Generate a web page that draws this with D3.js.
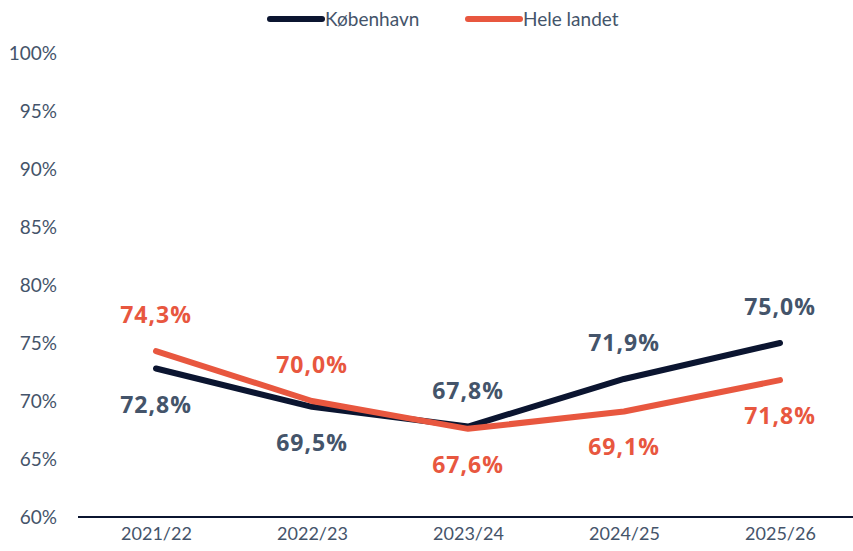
<!DOCTYPE html>
<html><head><meta charset="utf-8">
<script src="https://cdn.jsdelivr.net/npm/d3@7"></script>
<style>body{margin:0;background:#fff}svg{display:block}</style>
</head><body>
<svg id="c" width="853" height="551"></svg>
<script>
const categories = ["2021/22","2022/23","2023/24","2024/25","2025/26"];
const kbh = [72.8, 69.5, 67.8, 71.9, 75.0];
const hele = [74.3, 70.0, 67.6, 69.1, 71.8];
const kbhLabelPos = ["below","below","above","above","above"];
const heleLabelPos = ["above","above","below","below","below"];
const yTicks = [60,65,70,75,80,85,90,95,100];
const seriesNames = ["København","Hele landet"];

const darkLine = "#0b1530", orange = "#e8573f", textCol = "#44546a";
const svg = d3.select("#c");
const x = d3.scalePoint().domain(categories).range([156, 780]);
const y = d3.scaleLinear().domain([60,100]).range([517, 53]);
const fmt = v => v.toFixed(1).replace(".", ",") + "%";

// y axis labels
svg.append("g").selectAll("text").data(yTicks).join("text")
  .attr("x", 57).attr("y", d => y(d)).attr("dy", "0.35em")
  .attr("text-anchor", "end").attr("fill", textCol)
  .style("font-family", "Lato, 'Open Sans', sans-serif").style("font-size", "19px")
  .text(d => d + "%");

// x axis
const xa = svg.append("g").attr("transform", "translate(0,517)")
  .call(d3.axisBottom(x).tickSize(0).tickPadding(10));
xa.select(".domain").remove();
xa.selectAll("text").attr("fill", textCol).attr("dy", "0.71em")
  .style("font-family", "Lato, 'Open Sans', sans-serif").style("font-size", "18px");
svg.append("line").attr("x1", 78).attr("x2", 858).attr("y1", y(60)).attr("y2", y(60))
  .attr("stroke", darkLine).attr("stroke-width", 2);

const line = d3.line().x((d,i) => x(categories[i])).y(d => y(d)).curve(d3.curveLinear);
function drawSeries(vals, color) {
  svg.append("path").datum(vals).attr("d", line).attr("fill", "none")
    .attr("stroke", color).attr("stroke-width", 6)
    .attr("stroke-linecap", "round").attr("stroke-linejoin", "round");
}
drawSeries(kbh, darkLine);
drawSeries(hele, orange);

function drawLabels(vals, pos, color) {
  svg.append("g").selectAll("text").data(vals).join("text")
    .attr("x", (d,i) => x(categories[i]))
    .attr("y", (d,i) => y(d) + (pos[i] === "above" ? -36 : 36))
    .attr("dy", "0.35em").attr("text-anchor", "middle")
    .attr("fill", color)
    .style("font-family", "'Open Sans', Lato, sans-serif").style("font-weight", "bold")
    .style("font-size", "23px").style("letter-spacing", "1px")
    .text(d => fmt(d));
}
drawLabels(kbh, kbhLabelPos, textCol);
drawLabels(hele, heleLabelPos, orange);

// legend
const legend = [{name: seriesNames[0], color: darkLine, x: 268}, {name: seriesNames[1], color: orange, x: 466}];
const lg = svg.append("g").selectAll("g").data(legend).join("g")
  .attr("transform", d => `translate(${d.x},19)`);
lg.append("line").attr("x1", 2).attr("x2", 54).attr("stroke", d => d.color)
  .attr("stroke-width", 6).attr("stroke-linecap", "round");
lg.append("text").attr("x", 57).attr("dy", "0.35em").attr("fill", textCol)
  .style("font-family", "Lato, 'Open Sans', sans-serif").style("font-size", "19px")
  .text(d => d.name);
</script>
</body></html>
